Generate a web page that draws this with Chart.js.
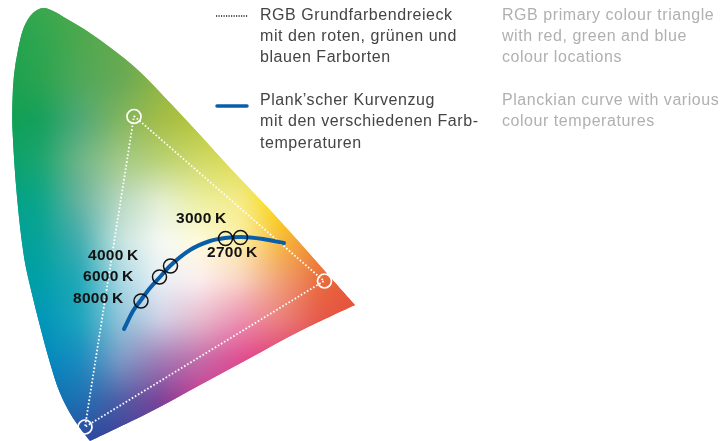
<!DOCTYPE html>
<html><head><meta charset="utf-8">
<style>html,body{margin:0;padding:0;background:#fff}canvas{display:block}</style>
<script src="https://cdn.jsdelivr.net/npm/chart.js@4/dist/chart.umd.min.js"></script>
</head><body><canvas id="c" width="721" height="441"></canvas>
<script>
// Values, in plot units of the diagram
const locusX=[43,53,67,84,100,120,140,173,200,230,270,300,330,355,300,250,200,150,90,73,60,50,41,31,24,17,12.5,12.5,14,18,24,33];
const locusY=[8,11,19,29,40,55,72,106,135,168,210,243,277,305,331,358,385,412,441,418,393,363,330,290,257,197,130,100,75,50,27,13];
const sharpCorners=[13,18];
const triangleX=[134,324,85,134];
const triangleY=[116,281,427,116];
const planckX=[124,133,141,150,160,170,190,210,225,241,263,284];
const planckY=[329,311,300,288,277,266,250,241,238,237,239,243];
const tempLabels=['8000\u2009K','6000\u2009K','4000\u2009K','3000\u2009K','2700\u2009K'];
const tempX=[141,159.5,170.5,225.5,240.5];
const tempY=[301,277,266,238.5,237.5];
const primaryX=[134,324.5,85];
const primaryY=[116.5,281,427];
const fieldColumns=[0,40,80,120,160,200,240,280,320,360];
const fieldRows=[0,40,80,120,160,200,240,280,320,360,400,440];
const fieldColors=[
 ['#2ba44e','#3da84d','#4aa94d','#64aa4c','#7eb048','#a0b840','#b8c43a','#c4cf3c','#c4cf3c','#c4cf3c'],
 ['#1fa24f','#2ea64f','#4da84f','#64aa4c','#7eb048','#98b540','#b0c03a','#c4cf3c','#c4cf3c','#c4cf3c'],
 ['#17a14f','#2aa350','#4fa85a','#67a956','#8eb445','#a8bd3c','#b8c43a','#c4cf3c','#c4cf3c','#c4cf3c'],
 ['#10a052','#14a05c','#4fa878','#82b560','#a5bd47','#b6c63a','#c4cf3c','#d4d430','#d4d430','#d4d430'],
 ['#06a06b','#1ba56f','#6fb588','#a4c988','#b8d273','#d0d968','#dedc50','#e8df30','#e8df30','#e8df30'],
 ['#00a085','#0ba58a','#6ab3a0','#b9d8c0','#e4efd4','#ecefa0','#f5eb8a','#fad800','#f5c030','#f5c030'],
 ['#00a09a','#06a29a','#45adb0','#c8e4e0','#f6f9f4','#fefbdc','#fdf0a8','#f7b93c','#ef8a30','#ec6a30'],
 ['#009aa0','#00a0a8','#22a8b8','#a8d8e4','#eaf0f6','#fdeef0','#f9d4c4','#f0a074','#e96c3c','#e6543a'],
 ['#0098b0','#0095ba','#1ca5bd','#90c4da','#cfd0e6','#e6b8cc','#ec8fb0','#ea7f7f','#e65848','#e44e3a'],
 ['#0088b8','#0088bc','#1a8bc0','#7c9ac6','#a07ab4','#c36aa8','#e04a90','#e03a70','#e0405a','#e0405a'],
 ['#0a70b0','#0a70b0','#1f70b2','#4f5ca4','#7c4098','#c8388e','#e03a88','#e03a70','#e0405a','#e0405a'],
 ['#105ca8','#105ca8','#2b4aa0','#3c3e98','#5a3c96','#9a3694','#c8388e','#e03a70','#e0405a','#e0405a']
];
const deLines=['RGB Grundfarbendreieck','mit den roten, grünen und','blauen Farborten','Plank’scher Kurvenzug','mit den verschiedenen Farb-','temperaturen'];
const enLines=['RGB primary colour triangle','with red, green and blue','colour locations','Planckian curve with various','colour temperatures'];

const pts=(xs,ys)=>xs.map((x,i)=>({x,y:ys[i]}));
function hex(c){return [1,3,5].map(i=>parseInt(c.substr(i,2),16));}
const fieldRGB=fieldColors.map(r=>r.map(hex));

const colourField={id:'colourField',
 beforeDatasetsDraw(chart){
  const {ctx,scales:{x,y}}=chart;
  const W=chart.width,H=chart.height;
  const off=document.createElement('canvas');off.width=W;off.height=H;
  const o=off.getContext('2d');const img=o.createImageData(W,H);
  const cw=fieldColumns[1]-fieldColumns[0],rh=fieldRows[1]-fieldRows[0];
  for(let py=0;py<H;py++){for(let px=0;px<W&&px<420;px++){
    const vx=Math.min(x.getValueForPixel(px),359.99),vy=Math.min(y.getValueForPixel(py),439.99);
    const c=Math.floor(vx/cw),r=Math.floor(vy/rh),u=vx/cw-c,v=vy/rh-r;
    const i=(py*W+px)*4;
    for(let k=0;k<3;k++){
      img.data[i+k]=(1-v)*((1-u)*fieldRGB[r][c][k]+u*fieldRGB[r][c+1][k])+v*((1-u)*fieldRGB[r+1][c][k]+u*fieldRGB[r+1][c+1][k]);
    }
    img.data[i+3]=255;
  }}
  o.putImageData(img,0,0);
  const lx=locusX.map(v=>x.getPixelForValue(v)),ly=locusY.map(v=>y.getPixelForValue(v));
  const n=lx.length;
  // smooth closed outline with sharp corners at the red and violet ends
  const tan=i=>{
    if(sharpCorners.includes(i))return [0,0];
    const a=(i-1+n)%n,b=(i+1)%n;
    const dab=Math.hypot(lx[b]-lx[a],ly[b]-ly[a])||1;
    return [(lx[b]-lx[a])/dab,(ly[b]-ly[a])/dab];
  };
  ctx.save();ctx.beginPath();ctx.moveTo(lx[0],ly[0]);
  for(let i=0;i<n;i++){
    const j=(i+1)%n,L=Math.hypot(lx[j]-lx[i],ly[j]-ly[i])/3,t0=tan(i),t1=tan(j);
    ctx.bezierCurveTo(lx[i]+t0[0]*L,ly[i]+t0[1]*L,lx[j]-t1[0]*L,ly[j]-t1[1]*L,lx[j],ly[j]);
  }
  ctx.closePath();ctx.clip();
  ctx.drawImage(off,0,0);
  ctx.filter='blur(6px)';ctx.drawImage(off,0,0);ctx.filter='none';
  ctx.restore();
 },
 afterDatasetsDraw(chart){
  const {ctx}=chart;
  ctx.save();ctx.textBaseline='middle';ctx.textAlign='left';
  // temperature labels
  ctx.font='bold 15.5px "Liberation Sans"';ctx.fillStyle='#111';ctx.letterSpacing='0.3px';
  const lp=[[73,299],[83,277],[88,256],[176,219],[207,253]];
  tempLabels.forEach((t,i)=>ctx.fillText(t,lp[i][0],lp[i][1]));
  // legend text
  ctx.font='16px "Liberation Sans"';ctx.letterSpacing='0.55px';
  ctx.fillStyle='#444';
  [16,37,58,101,122,144].forEach((ty,i)=>ctx.fillText(deLines[i],260,ty));
  ctx.fillStyle='#b0b0b0';
  [16,37,58,101,122].forEach((ty,i)=>ctx.fillText(enLines[i],502,ty));
  // legend samples
  ctx.strokeStyle='#222';ctx.lineWidth=1.5;ctx.setLineDash([1.2,1.3]);
  ctx.beginPath();ctx.moveTo(216,16);ctx.lineTo(248,16);ctx.stroke();
  ctx.setLineDash([]);ctx.strokeStyle='#0a5ea8';ctx.lineWidth=3.5;ctx.lineCap='round';
  ctx.beginPath();ctx.moveTo(217,106);ctx.lineTo(247,106);ctx.stroke();
  ctx.restore();
 }};

new Chart(document.getElementById('c'),{
 type:'scatter',
 data:{datasets:[
  {label:'Spektralzug',data:pts(locusX,locusY),showLine:false,pointRadius:0,order:5},
  {label:'RGB Grundfarbendreieck',data:pts(triangleX,triangleY),showLine:true,borderColor:'#fff',borderWidth:1.8,borderDash:[1.6,2],pointRadius:0,tension:0,order:4},
  {label:'Primärfarben',data:pts(primaryX,primaryY),showLine:false,pointRadius:7,pointBorderWidth:1.7,pointBorderColor:'#fff',pointBackgroundColor:'rgba(0,0,0,0)',order:3},
  {label:'Plank’scher Kurvenzug',data:pts(planckX,planckY),showLine:true,borderColor:'#0a5ea8',borderWidth:4,borderCapStyle:'round',borderJoinStyle:'round',cubicInterpolationMode:'monotone',pointRadius:0,order:2},
  {label:'Farbtemperaturen',data:pts(tempX,tempY),showLine:false,pointRadius:7,pointBorderWidth:1.5,pointBorderColor:'#111',pointBackgroundColor:'rgba(0,0,0,0)',order:1}
 ]},
 options:{responsive:false,animation:false,devicePixelRatio:1,
  layout:{padding:0,autoPadding:false},
  plugins:{legend:{display:false},tooltip:{enabled:false}},
  scales:{x:{type:'linear',min:0,max:721,display:false},y:{type:'linear',min:0,max:441,reverse:true,display:false}}
 },
 plugins:[colourField]
});
</script></body></html>
